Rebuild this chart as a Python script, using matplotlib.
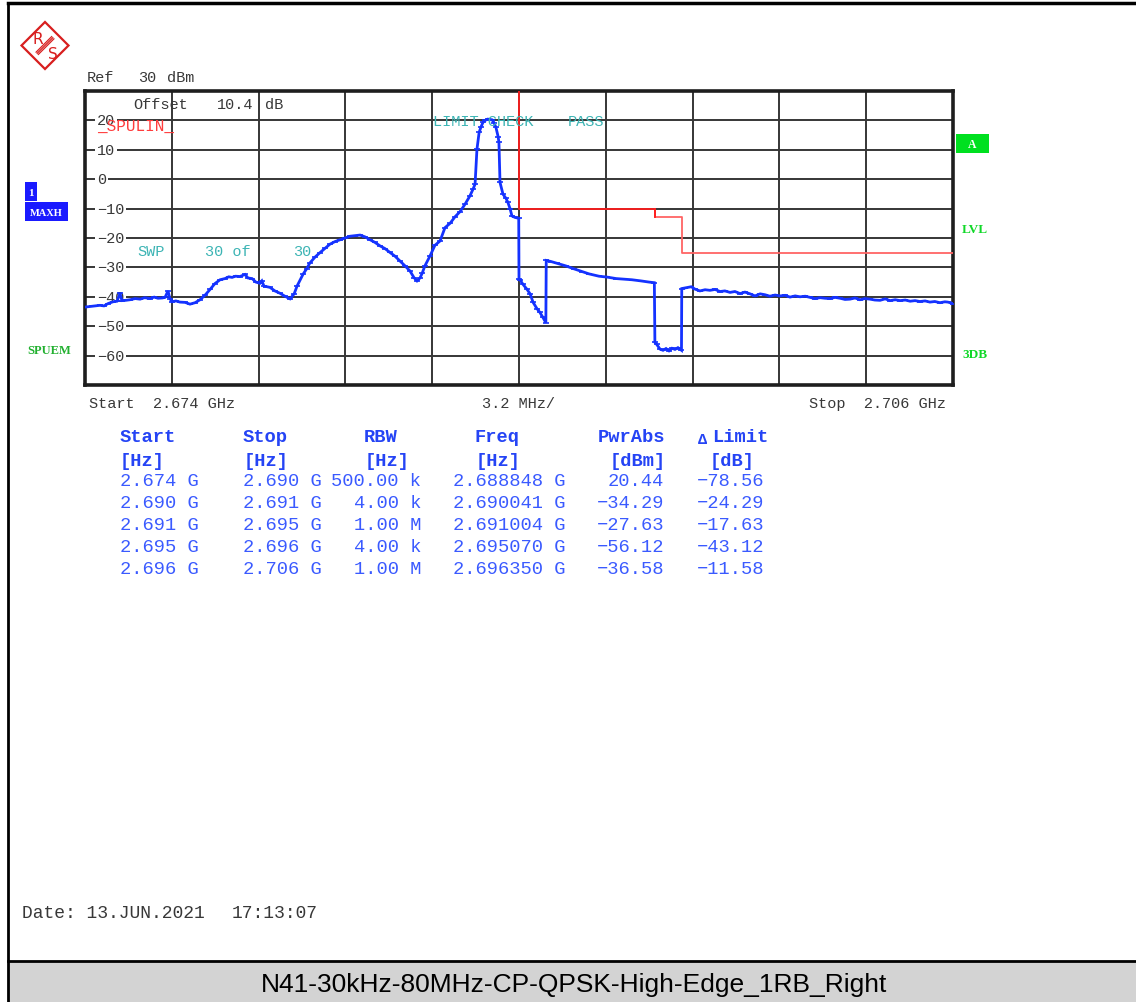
import numpy as np
import matplotlib
matplotlib.use("Agg")
import matplotlib.pyplot as plt
from matplotlib.patches import Rectangle, Polygon
from matplotlib.transforms import blended_transform_factory

# ---------------- data ----------------
START_MHZ = 2674.0
STOP_MHZ = 2706.0
REF_LEVEL = 30
BOTTOM_LEVEL = -70

# max-hold trace: frequency offset from start (MHz) and level (dBm)
trace_offset_mhz = [
    0.00, 0.26, 0.55, 0.70, 0.85, 1.03, 1.18, 1.29, 1.36, 1.50, 1.66, 1.85, 2.03, 2.20,
    2.40, 2.55, 2.69, 2.85, 2.95, 3.06, 3.13, 3.21, 3.35, 3.50, 3.69, 3.87, 4.06, 4.24,
    4.42, 4.61, 4.79, 4.98, 5.16, 5.30, 5.42, 5.55, 5.71, 5.90, 6.01, 6.16, 6.30, 6.45,
    6.52, 6.60, 6.67, 6.82, 7.00, 7.19, 7.37, 7.56, 7.71, 7.82, 8.04, 8.17, 8.29, 8.48,
    8.66, 8.85, 9.03, 9.22, 9.40, 9.59, 9.77, 9.95, 10.14, 10.32, 10.51, 10.69, 10.88,
    11.06, 11.24, 11.43, 11.61, 11.80, 11.98, 12.13, 12.24, 12.35, 12.43, 12.53, 12.72,
    12.90, 13.09, 13.27, 13.46, 13.64, 13.83, 14.01, 14.19, 14.30, 14.38, 14.45, 14.53,
    14.60, 14.67, 14.75, 14.848, 14.93, 15.01, 15.08, 15.15, 15.23, 15.26, 15.30, 15.41,
    15.52, 15.59, 15.67, 15.74, 15.85, 15.99,
    16.00, 16.041, 16.15, 16.29, 16.41, 16.52, 16.66, 16.77, 16.88, 16.99,
    17.004, 17.18, 17.40, 17.73, 18.03, 18.32, 18.58, 18.95, 19.25, 19.58, 19.87, 20.16,
    20.50, 20.80, 20.99,
    21.01, 21.07, 21.20, 21.31, 21.42, 21.53, 21.64, 21.75, 21.86, 21.99,
    22.00, 22.12, 22.350, 22.49, 22.67, 22.86, 23.04, 23.23, 23.41, 23.59, 23.78, 23.96,
    24.15, 24.33, 24.52, 24.70, 24.89, 25.07, 25.25, 25.44, 25.62, 25.81, 25.99, 26.18,
    26.36, 26.55, 26.73, 26.91, 27.10, 27.28, 27.47, 27.65, 27.84, 28.02, 28.20, 28.39,
    28.57, 28.75, 28.94, 29.12, 29.31, 29.50, 29.68, 29.87, 30.05, 30.24, 30.42, 30.60,
    30.78, 30.97, 31.15, 31.33, 31.52, 31.70, 31.81, 32.00,
]
trace_dbm = [
    -43.5, -43.2, -42.9, -43.1, -42.3, -41.7, -41.5, -38.8, -41.3, -41.2, -41.0, -40.6, -40.8, -40.3,
    -40.6, -40.1, -40.5, -40.4, -40.2, -38.0, -40.6, -41.7, -41.4, -41.8, -41.9, -42.5, -42.0, -41.0,
    -39.5, -37.5, -35.5, -34.2, -33.8, -33.2, -33.4, -33.0, -33.1, -32.4, -33.6, -33.8, -35.0, -35.4,
    -34.6, -36.4, -36.5, -36.8, -38.0, -38.8, -39.8, -40.7, -39.0, -36.3, -32.3, -30.5, -28.5, -26.5,
    -25.0, -23.5, -22.1, -21.2, -20.6, -20.0, -19.4, -19.2, -19.0, -19.6, -20.6, -21.5, -22.7,
    -23.6, -24.9, -26.2, -27.8, -29.5, -31.2, -33.5, -34.6, -33.6, -32.0, -29.5, -26.1,
    -22.5, -21.0, -16.5, -15.0, -12.8, -11.0, -8.5, -5.7, -3.5, -1.7, 10.2, 15.9,
    17.8, 19.3, 20.0, 20.44, 20.3, 20.2, 19.2, 17.6, 14.5, 12.5, -1.1, -5.1,
    -6.5, -7.9, -10.0, -12.5, -13.0, -13.3,
    -34.0, -34.29, -35.8, -37.4, -39.0, -41.9, -44.0, -45.3, -47.0, -48.8,
    -27.63, -28.0, -28.6, -29.5, -30.5, -31.4, -32.2, -33.0, -33.3, -33.8, -34.0, -34.2,
    -34.6, -35.0, -35.2,
    -55.5, -56.12, -57.8, -58.2, -57.6, -58.4, -57.5, -57.9, -57.3, -58.2,
    -37.2, -37.0, -36.58, -37.4, -38.0, -37.6, -37.8, -37.5, -38.2, -38.0, -38.5, -38.2,
    -38.9, -38.4, -39.0, -39.7, -39.0, -39.3, -39.8, -39.4, -39.7, -39.5, -40.1, -39.7,
    -40.0, -39.8, -40.2, -40.6, -40.3, -40.5, -40.6, -40.2, -40.5, -40.9, -40.8, -40.4,
    -41.0, -40.6, -40.8, -41.1, -41.2, -40.7, -41.3, -41.0, -41.3, -41.1, -41.5, -41.3,
    -41.6, -41.4, -41.8, -41.6, -42.0, -41.7, -41.8, -42.3,
]

y_tick_values = [20, 10, 0, -10, -20, -30, -40, -50, -60]

# result table of the spurious emission ranges
table_header = ["Start", "Stop", "RBW", "Freq", "PwrAbs", "Limit"]
table_units = ["[Hz]", "[Hz]", "[Hz]", "[Hz]", "[dBm]", "[dB]"]
range_start = ["2.674 G", "2.690 G", "2.691 G", "2.695 G", "2.696 G"]
range_stop = ["2.690 G", "2.691 G", "2.695 G", "2.696 G", "2.706 G"]
range_start_mhz = [2674, 2690, 2691, 2695, 2696]
range_stop_mhz = [2690, 2691, 2695, 2696, 2706]
rbw = ["500.00 k", "4.00 k", "1.00 M", "4.00 k", "1.00 M"]
peak_freq = ["2.688848 G", "2.690041 G", "2.691004 G", "2.695070 G", "2.696350 G"]
pwr_abs = [20.44, -34.29, -27.63, -56.12, -36.58]
delta_limit = [-78.56, -24.29, -17.63, -43.12, -11.58]

title = "N41-30kHz-80MHz-CP-QPSK-High-Edge_1RB_Right"

# ---------------- figure ----------------
W, H = 1136, 1003
fig = plt.figure(figsize=(W / 100, H / 100), dpi=100)
fig.patch.set_facecolor("white")

MONO = ["Liberation Mono", "DejaVu Sans Mono"]
SERIF = ["Liberation Serif", "DejaVu Serif"]
TXT = "#383838"
TEAL = "#3cb4b4"
BLUE_H = "#2544f5"
BLUE_T = "#3a5aff"
GREEN = "#10d828"


def neg(s):
    return s.replace("-", "\u2212")


# spectrum display
PL, PR, PT, PB = 85, 953, 92, 386
ax = fig.add_axes([PL / W, 1 - PB / H, (PR - PL) / W, (PB - PT) / H])
ax.set_xlim(START_MHZ, STOP_MHZ)
ax.set_ylim(BOTTOM_LEVEL, REF_LEVEL)
ax.set_xticks(np.linspace(START_MHZ, STOP_MHZ, 11))
ax.set_yticks(np.arange(BOTTOM_LEVEL, REF_LEVEL + 1, 10))
ax.tick_params(length=0, labelbottom=False, labelleft=False)
ax.grid(True, color="#363636", lw=1.4)
ax.set_axisbelow(True)
for sp in ax.spines.values():
    sp.set_linewidth(2.6)
    sp.set_color("#1e1e1e")

# level labels drawn inside the grid
btr = blended_transform_factory(ax.transAxes, ax.transData)
for v in y_tick_values:
    ax.text(12 / (PR - PL), v, neg(str(v)), transform=btr, ha="left", va="center",
            family=MONO, fontsize=11, color=TXT, zorder=2,
            bbox=dict(boxstyle="square,pad=0.12", fc="white", ec="none"))

# limit line derived from the table (level = PwrAbs - delta limit)
limit_dbm = [round(p - d, 2) for p, d in zip(pwr_abs, delta_limit)]
lim_x = range_start_mhz + [range_stop_mhz[-1]]
lim_y = limit_dbm + [limit_dbm[-1]]
ax.step(lim_x[:4], lim_y[:4], where="post", color="#ff1e1e", lw=1.3, zorder=3)
ax.step(lim_x[3:], lim_y[3:], where="post", color="#ff6464", lw=1.3, zorder=3)
ax.plot([lim_x[3], lim_x[3]], [lim_y[2], lim_y[3]], color="#ff1e1e", lw=1.3, zorder=3)

# max-hold trace
fx = START_MHZ + np.array(trace_offset_mhz)
ax.plot(fx, trace_dbm, color="#1432ff", lw=2.0, marker="_", ms=4, mew=1.2,
        solid_joinstyle="miter", zorder=4)

# ---------------- annotations in pixel space ----------------
ov = fig.add_axes([0, 0, 1, 1], zorder=5)
ov.set_xlim(0, W)
ov.set_ylim(H, 0)
ov.axis("off")

# outer frame and caption band
ov.add_patch(Rectangle((8, 963), W - 8, H - 963, fc="#d3d3d3", ec="none"))
ov.plot([8, W], [962, 962], color="black", lw=2)
ov.plot([8, 8], [4, H], color="black", lw=2)
ov.plot([8, W], [4, 4], color="black", lw=2.5)
ov.text(574, 985, title, ha="center", va="center", family=["Liberation Sans", "DejaVu Sans"],
        fontsize=19, color="black")

# logo
cx, cy, r = 45, 46.5, 23.5
ov.add_patch(Polygon([(cx - r, cy), (cx, cy - r), (cx + r, cy), (cx, cy + r)], closed=True,
                     fill=False, ec="#d81e1e", lw=1.6))
d = np.array([1, -1]) / np.sqrt(2)
nrm = np.array([1, 1]) / np.sqrt(2)
for off in (-1.6, 0, 1.6):
    p0 = np.array([cx, cy]) + nrm * off - d * 11
    p1 = np.array([cx, cy]) + nrm * off + d * 11
    ov.plot([p0[0], p1[0]], [p0[1], p1[1]], color="#d81e1e", lw=0.9)
ov.text(38, 39, "R", ha="center", va="center", fontsize=11, color="#d81e1e",
        family=["DejaVu Sans"])
ov.text(52.5, 54, "S", ha="center", va="center", fontsize=11, color="#d81e1e",
        family=["DejaVu Sans"])

# header texts
def small(x, y, s, color=TXT, size=11):
    ov.text(x, y, s, ha="left", va="center", family=MONO, fontsize=size, color=color)

small(87, 78, "Ref")
small(138, 78, "30")
small(167, 78, "dBm")
small(133, 105, "Offset")
small(217, 105, "10.4")
small(265, 105, "dB")
small(97, 126, "_SPULIN_", color="#ff3c3c", size=11.5)
small(137, 252, "SWP", color=TEAL)
small(205, 252, "30 of", color=TEAL)
small(293, 252, "30", color=TEAL)
small(433, 122, "LIMIT CHECK", color=TEAL)
small(568, 122, "PASS", color=TEAL)
small(89, 404, "Start  2.674 GHz")
small(482, 404, "3.2 MHz/")
small(809, 404, "Stop  2.706 GHz")

# side indicators
ov.add_patch(Rectangle((25, 183), 12, 19, fc="#1a1aff", ec="none"))
ov.text(31, 193, "1", ha="center", va="center", fontsize=8, color="white",
        family=SERIF, weight="bold")
ov.add_patch(Rectangle((25, 203), 43, 19, fc="#1a1aff", ec="none"))
ov.text(46.5, 213, "MAXH", ha="center", va="center", fontsize=7.5, color="white",
        family=SERIF, weight="bold")
ov.text(27, 351, "SPUEM", ha="left", va="center", fontsize=9, color="#22b030",
        family=SERIF, weight="bold")
ov.add_patch(Rectangle((956, 135), 33, 19, fc="#00e020", ec="none"))
ov.text(972.5, 145, "A", ha="center", va="center", fontsize=8.5, color="white",
        family=SERIF, weight="bold")
ov.text(962, 230, "LVL", ha="left", va="center", fontsize=9.5, color=GREEN,
        family=SERIF, weight="bold")
ov.text(962, 355, "3DB", ha="left", va="center", fontsize=9.5, color=GREEN,
        family=SERIF, weight="bold")

# result table
TS = 13.5
hdr_x = [120, 243, 364, 475, 598, 712]
for x, s in zip(hdr_x, table_header):
    ov.text(x, 438, s, ha="left", va="center", family=MONO, fontsize=TS,
            color=BLUE_H, weight="bold")
ov.text(698, 440, "\u0394", ha="left", va="center", family=MONO, fontsize=11,
        color=BLUE_H, weight="bold")
unit_x = [120, 244, 365, 476, 610, 710]
for x, s in zip(unit_x, table_units):
    ov.text(x, 461, s, ha="left", va="center", family=MONO, fontsize=TS,
            color=BLUE_H, weight="bold")

row_y = [481, 503, 525, 547, 569]
for i, y in enumerate(row_y):
    kw = dict(va="center", family=MONO, fontsize=TS, color=BLUE_T)
    ov.text(120, y, range_start[i], ha="left", **kw)
    ov.text(243, y, range_stop[i], ha="left", **kw)
    ov.text(421, y, rbw[i], ha="right", **kw)
    ov.text(453, y, peak_freq[i], ha="left", **kw)
    ov.text(664, y, neg(f"{pwr_abs[i]:.2f}"), ha="right", **kw)
    ov.text(697, y, neg(f"{delta_limit[i]:.2f}"), ha="left", **kw)

ov.text(22, 914, "Date: 13.JUN.2021", ha="left", va="center", family=MONO,
        fontsize=13, color=TXT)
ov.text(232, 914, "17:13:07", ha="left", va="center", family=MONO,
        fontsize=13, color=TXT)

fig.savefig("out.png", dpi=100, facecolor="white")
